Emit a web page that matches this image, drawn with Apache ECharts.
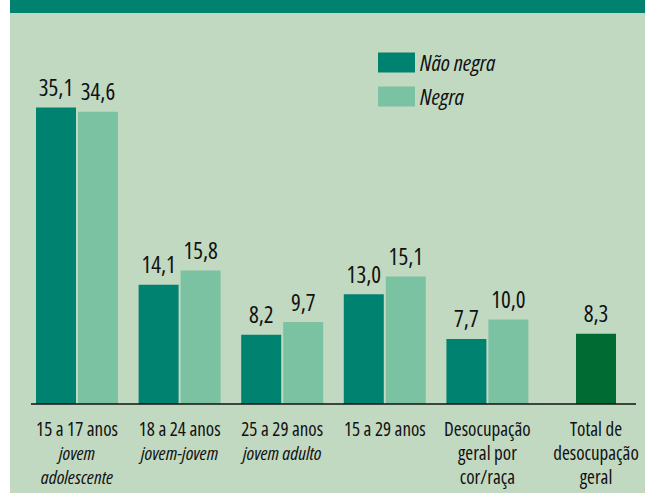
<!DOCTYPE html>
<html>
<head>
<meta charset="utf-8">
<script src="https://cdn.jsdelivr.net/npm/echarts@6/dist/echarts.min.js"></script>
<style>
html,body{margin:0;padding:0;background:#fff;}
#c{width:645px;height:504px;}
#c text{font-stretch:75% !important;}
</style>
</head>
<body>
<div id="c"></div>
<script>
var categories = [
  '15 a 17 anos\n{i|jovem}\n{i|adolescente}',
  '18 a 24 anos\n{i|jovem-jovem}',
  '25 a 29 anos\n{i|jovem adulto}',
  '15 a 29 anos',
  'Desocupação\ngeral por\ncor/raça',
  'Total de\ndesocupação\ngeral'
];
var naoNegra = [35.1, 14.1, 8.2, 13.0, 7.7, '-'];
var negra = [34.6, 15.8, 9.7, 15.1, 10.0, '-'];
var totalGeral = ['-', '-', '-', '-', '-', 8.3];

var FONT = '"Open Sans",sans-serif';
var valueLabel = {
  show: true, position: 'top', distance: 9,
  fontFamily: FONT, fontSize: 23, color: '#111',
  formatter: function (p) { return Number(p.value).toFixed(1).replace('.', ','); }
};
var axisLabelBase = {
  fontFamily: FONT, fontSize: 19, color: '#111', lineHeight: 24, margin: 13,
  rich: { i: { fontFamily: FONT, fontSize: 19, fontStyle: 'italic', color: '#111', lineHeight: 24 } }
};

var chart = echarts.init(document.getElementById('c'), null, { renderer: 'svg' });
chart.setOption({
  animation: false,
  backgroundColor: '#ffffff',
  graphic: [
    { type: 'rect', z: -10, shape: { x: 10, y: 0, width: 635, height: 493 }, style: { fill: '#c2d9c1' } },
    { type: 'rect', z: -9, shape: { x: 10, y: 0, width: 635, height: 13 }, style: { fill: '#008270' } },
    { type: 'line', z: 10, shape: { x1: 31, y1: 404, x2: 636, y2: 404 }, style: { stroke: '#111', lineWidth: 1.5 } }
  ],
  legend: {
    data: ['Não negra', 'Negra'],
    orient: 'vertical', left: 378, top: 51, padding: 0,
    itemWidth: 37, itemHeight: 20, itemGap: 11,
    icon: 'rect',
    textStyle: { fontFamily: FONT, fontSize: 22.5, fontStyle: 'italic', color: '#111', lineHeight: 20 }
  },
  grid: [
    { left: 25.7, width: 615.6, top: 66, bottom: 100, containLabel: false, outerBoundsMode: 'none' },
    { left: 31.7, width: 615.6, top: 66, bottom: 100, containLabel: false, outerBoundsMode: 'none' }
  ],
  xAxis: [
    {
      type: 'category', gridIndex: 0, data: categories,
      axisLine: { show: false }, axisTick: { show: false },
      axisLabel: Object.assign({}, axisLabelBase, {
        interval: 0,
        formatter: function (v, i) { return i === 5 ? '' : v; }
      })
    },
    {
      type: 'category', gridIndex: 1, data: categories,
      axisLine: { show: false }, axisTick: { show: false },
      axisLabel: Object.assign({}, axisLabelBase, {
        interval: 0,
        formatter: function (v, i) { return i === 5 ? v : ''; }
      })
    }
  ],
  yAxis: [
    { type: 'value', gridIndex: 0, min: 0, max: 40, show: false },
    { type: 'value', gridIndex: 1, min: 0, max: 40, show: false }
  ],
  series: [
    {
      name: 'Não negra', type: 'bar', xAxisIndex: 0, yAxisIndex: 0,
      data: naoNegra, barWidth: 40, barGap: '5%',
      itemStyle: { color: '#008270' }, label: valueLabel
    },
    {
      name: 'Negra', type: 'bar', xAxisIndex: 0, yAxisIndex: 0,
      data: negra, barWidth: 40, barGap: '5%',
      itemStyle: { color: '#7bc2a3' }, label: valueLabel
    },
    {
      name: 'Total de desocupação geral', type: 'bar', xAxisIndex: 1, yAxisIndex: 1,
      data: totalGeral, barWidth: 40,
      itemStyle: { color: '#006b33' }, label: valueLabel
    }
  ]
});
</script>
</body>
</html>
